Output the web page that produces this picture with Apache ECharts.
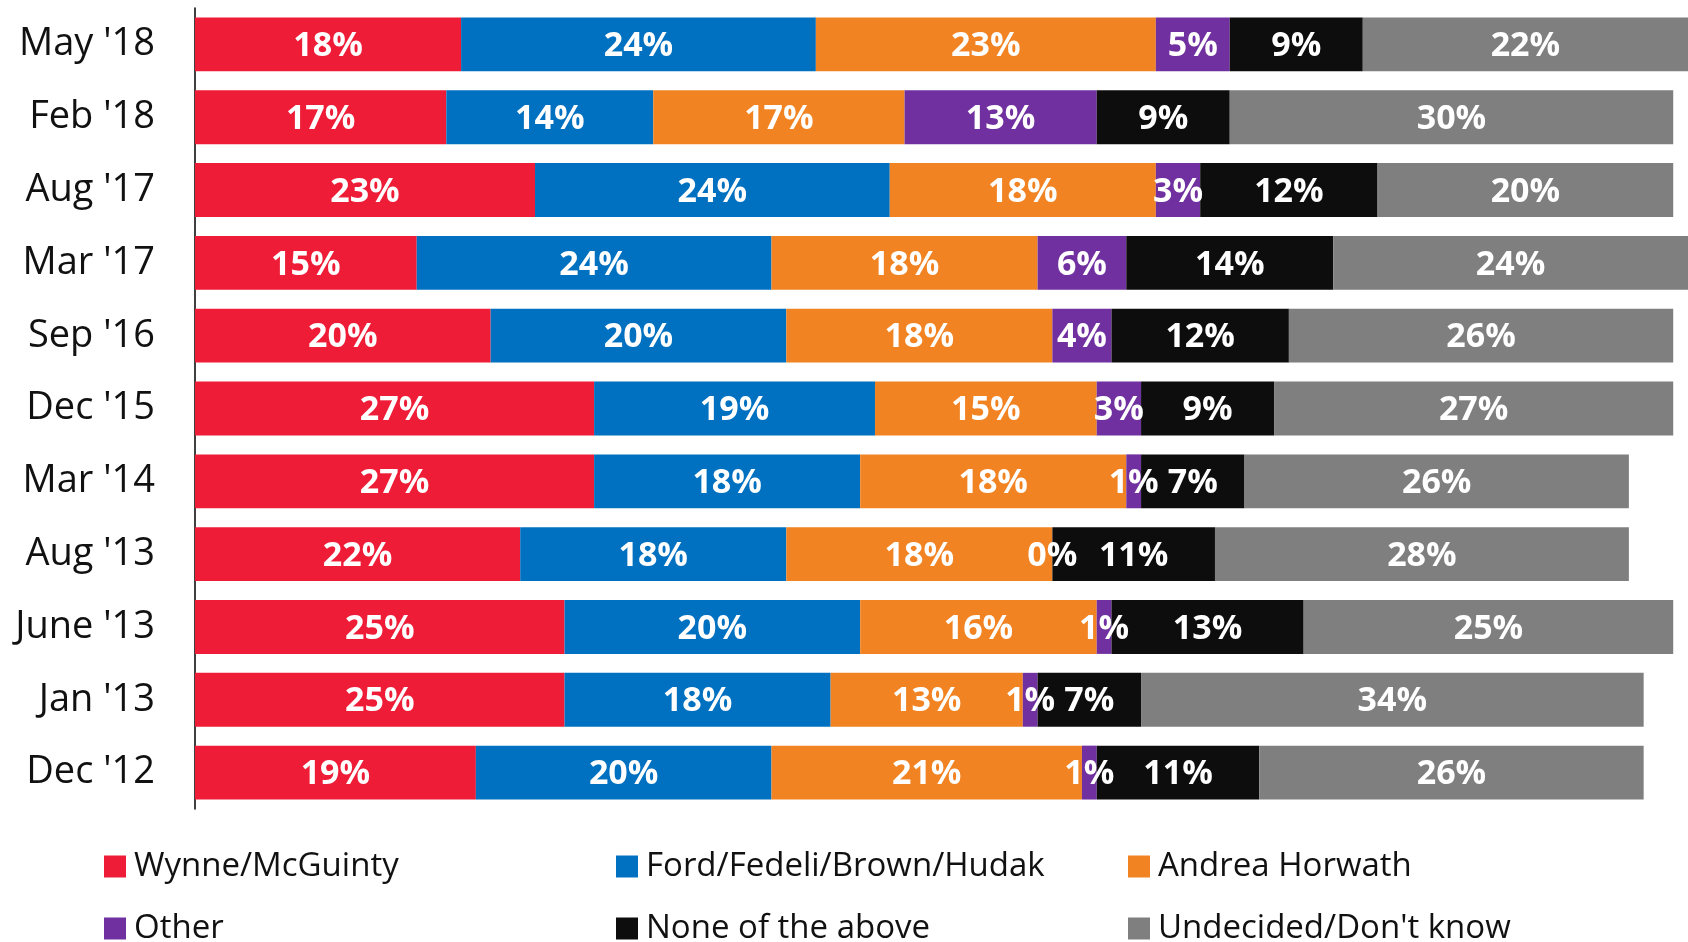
<!DOCTYPE html>
<html>
<head>
<meta charset="utf-8">
<script src="https://cdn.jsdelivr.net/npm/echarts@6/dist/echarts.min.js"></script>
<style>
  html, body { margin: 0; padding: 0; background: #fff; }
  #chart { width: 1688px; height: 942px; }
</style>
</head>
<body>
<div id="chart"></div>
<script>
// Survey waves, newest first
const waves = ["May '18", "Feb '18", "Aug '17", "Mar '17", "Sep '16", "Dec '15",
               "Mar '14", "Aug '13", "June '13", "Jan '13", "Dec '12"];

// Share of respondents (%) per choice, one value per wave
const wynneMcGuinty   = [18, 17, 23, 15, 20, 27, 27, 22, 25, 25, 19];
const fordFedeliEtc   = [24, 14, 24, 24, 20, 19, 18, 18, 20, 18, 20];
const andreaHorwath   = [23, 17, 18, 18, 18, 15, 18, 18, 16, 13, 21];
const other           = [5, 13, 3, 6, 4, 3, 1, 0, 1, 1, 1];
const noneOfTheAbove  = [9, 9, 12, 14, 12, 9, 7, 11, 13, 7, 11];
const undecided       = [22, 30, 20, 24, 26, 27, 26, 28, 25, 34, 26];

const seriesNames = ["Wynne/McGuinty", "Ford/Fedeli/Brown/Hudak", "Andrea Horwath",
                     "Other", "None of the above", "Undecided/Don't know"];
const seriesValues = [wynneMcGuinty, fordFedeliEtc, andreaHorwath, other, noneOfTheAbove, undecided];
const colors = ["#EE1C37", "#0070C0", "#F28322", "#7030A0", "#0D0D0D", "#7F7F7F"];

const textFont = "'Open Sans', sans-serif";

const chart = echarts.init(document.getElementById('chart'), null, { renderer: 'canvas' });

const series = seriesNames.map((name, i) => ({
  name: name,
  type: 'bar',
  stack: 'total',
  barCategoryGap: '26%',
  itemStyle: { color: colors[i] },
  label: {
    show: true,
    position: 'inside',
    formatter: '{c}%',
    color: '#fff',
    fontFamily: textFont,
    fontWeight: 'bold',
    fontSize: 34,
    offset: [0, 2]
  },
  emphasis: { disabled: true },
  data: seriesValues[i]
}));

// Legend laid out as a 3 x 2 grid
const legendCols = [104, 616, 1128];
const legendRows = [850, 912];
const legends = seriesNames.map((name, i) => ({
  data: [name],
  left: legendCols[i % 3],
  top: legendRows[Math.floor(i / 3)],
  padding: 0,
  itemWidth: 22,
  itemHeight: 22,
  itemGap: 0,
  icon: 'rect',
  selectedMode: false,
  textStyle: { fontFamily: textFont, fontSize: 33, color: '#111', padding: [0, 0, 0, 3] }
}));

chart.setOption({
  animation: false,
  color: colors,
  legend: legends,
  grid: { left: 195, right: 0, top: 8, bottom: 133, containLabel: false },
  xAxis: { type: 'value', min: 0, max: 101, show: false },
  yAxis: {
    type: 'category',
    inverse: true,
    data: waves,
    axisLine: { show: true, lineStyle: { color: '#000', width: 1.5 } },
    axisTick: { show: false },
    axisLabel: { color: '#111', fontFamily: textFont, fontSize: 38, margin: 40 }
  },
  series: series
});
</script>
</body>
</html>
